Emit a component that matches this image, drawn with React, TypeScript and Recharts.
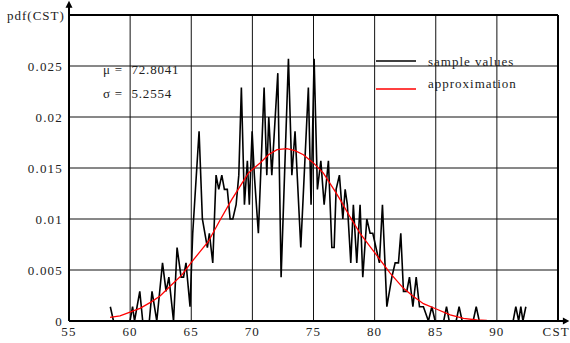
import React from 'react';
import {
  LineChart,
  Line,
  XAxis,
  YAxis,
  CartesianGrid,
  ReferenceLine,
  ReferenceDot,
} from 'recharts';

// ---- data ----
const xTicks = [55, 60, 65, 70, 75, 80, 85, 90, 95];
const xTickLabels = ['55', '60', '65', '70', '75', '80', '85', '90', 'CST'];
const yTicks = [0, 0.005, 0.01, 0.015, 0.02, 0.025, 0.03];
const yTickLabels = ['0', '0.005', '0.01', '0.015', '0.02', '0.025', ''];

const sampleX = [
  58.38, 58.64, 59.99, 60.2, 60.36, 60.79, 61.03, 61.57, 61.79, 62.18, 62.65, 62.94, 63.17,
  63.55, 63.84, 64.17, 64.37, 64.57, 64.9, 65.12, 65.64, 65.91, 66.32, 66.48, 66.76, 67.03,
  67.25, 67.5, 67.71, 67.95, 68.18, 68.4, 68.67, 68.89, 69.1, 69.35, 69.59, 69.75, 69.98,
  70.16, 70.49, 70.96, 71.18, 71.34, 71.59, 72.08, 72.35, 72.95, 73.23, 73.49, 73.96, 74.58,
  74.8, 75.05, 75.32, 75.6, 75.87, 76.22, 76.5, 76.69, 76.85, 77.12, 77.4, 77.59, 77.77,
  78.05, 78.26, 78.54, 78.81, 79.03, 79.36, 79.63, 79.85, 80.39, 80.64, 81.0, 81.41, 81.68,
  81.95, 82.14, 82.36, 82.63, 82.85, 83.13, 83.4, 83.67, 83.99, 84.4, 84.68, 84.95, 85.65,
  85.88, 86.1, 86.67, 86.91, 87.16, 88.06, 88.31, 88.56, 91.33, 91.55, 91.78, 91.96, 92.13,
  92.37,
];
const sampleY = [
  0.0014, 0, 0, 0.0014, 0, 0.0029, 0, 0, 0.0029, 0, 0.0057, 0.0029, 0.0043,
  0, 0.0072, 0.0043, 0.0043, 0.0057, 0.0014, 0.0086, 0.0186, 0.01, 0.0072, 0.0086, 0.0057, 0.0143,
  0.0129, 0.0143, 0.0129, 0.0129, 0.01, 0.01, 0.0114, 0.0143, 0.0229, 0.0114, 0.0157, 0.0114, 0.0186,
  0.0143, 0.0086, 0.0229, 0.0143, 0.02, 0.0143, 0.0243, 0.0043, 0.0257, 0.0143, 0.0186, 0.0072, 0.0229,
  0.0114, 0.0257, 0.0129, 0.0157, 0.0114, 0.0157, 0.0072, 0.0072, 0.0129, 0.0143, 0.01, 0.0129, 0.0114,
  0.0057, 0.0114, 0.0057, 0.0114, 0.0043, 0.01, 0.0086, 0.0086, 0.0057, 0.0114, 0.0014, 0.0043, 0.0057,
  0.0057, 0.0086, 0.0029, 0.0029, 0.0043, 0.0014, 0.0043, 0.0014, 0.0014, 0, 0.0014, 0, 0,
  0.0014, 0, 0, 0.0014, 0, 0, 0.0014, 0, 0, 0.0014, 0, 0.0014, 0,
  0.0014,
];

const approxX = [
  58.36, 59.17, 59.72, 60.26, 60.81, 61.77, 62.45, 63.27, 64.22, 65.04, 65.72, 66.4, 67.36,
  68.31, 68.99, 69.67, 70.63, 71.31, 72.02, 72.82, 73.49, 74.17, 74.99, 75.81, 76.77, 77.18,
  77.99, 78.81, 79.63, 80.45, 81.27, 82.36, 83.18, 83.99, 85.09, 86.18, 87.27, 88.36, 89.18,
  92.45,
];
const approxY = [
  0.00036, 0.0005, 0.00075, 0.001, 0.00124, 0.0019, 0.00245, 0.0034, 0.0045, 0.0058, 0.0068, 0.0078, 0.0099,
  0.0119, 0.0132, 0.0145, 0.0155, 0.0163, 0.0168, 0.0169, 0.0167, 0.0163, 0.0155, 0.0145, 0.0127, 0.0119,
  0.0102, 0.0086, 0.0073, 0.006, 0.0047, 0.0032, 0.0024, 0.0017, 0.00115, 0.0006, 0.00026, 0.0001, 0.00005,
  0,
];

const muText = '72.8041';
const sigmaText = '5.2554';
const seriesNames = ['sample values', 'approximation'];

const sampleData = sampleX.map((x, i) => ({ x, y: sampleY[i] }));
const approxData = approxX.map((x, i) => ({ x, y: approxY[i] }));

const FONT = 'Liberation Serif';
const TXT = '#222';

const RightArrow = (p: any) => (
  <polygon
    points={`${p.cx},${p.cy} ${p.cx - 6.5},${p.cy - 3.5} ${p.cx - 6.5},${p.cy + 3.5}`}
    fill="#000"
  />
);
const UpArrow = (p: any) => (
  <polygon
    points={`${p.cx},${p.cy} ${p.cx - 3.5},${p.cy + 7} ${p.cx + 3.5},${p.cy + 7}`}
    fill="#000"
  />
);

export default function App() {
  return (
    <div style={{ position: 'absolute', left: 0, top: 0, width: 570, height: 343, background: '#fff' }}>
      <LineChart width={570} height={343} margin={{ top: 15, right: 12, left: 0, bottom: 0 }}>
        <CartesianGrid stroke="#111" strokeWidth={1} />
        <XAxis
          type="number"
          dataKey="x"
          domain={[55, 95]}
          ticks={xTicks}
          tickFormatter={(v: number) => xTickLabels[xTicks.indexOf(v)] ?? ''}
          height={22}
          tickSize={0}
          tickMargin={6}
          axisLine={{ stroke: '#000', strokeWidth: 2 }}
          tick={{ fill: TXT, fontSize: 13, fontFamily: FONT, letterSpacing: 1.2 }}
          allowDataOverflow
        />
        <YAxis
          type="number"
          domain={[0, 0.03]}
          ticks={yTicks}
          tickFormatter={(v: number) => yTickLabels[yTicks.indexOf(v)] ?? ''}
          width={69}
          tickSize={0}
          tickMargin={6}
          axisLine={{ stroke: '#000', strokeWidth: 2 }}
          tick={{ fill: TXT, fontSize: 13, fontFamily: FONT, letterSpacing: 1.2 }}
          allowDataOverflow
        />
        <ReferenceLine y={0.03} stroke="#000" strokeWidth={2} />
        <ReferenceLine x={95} stroke="#000" strokeWidth={2} />
        <ReferenceLine
          segment={[{ x: 95, y: 0 }, { x: 95.5, y: 0 }]}
          stroke="#000"
          strokeWidth={2}
          ifOverflow="visible"
        />
        <ReferenceLine
          segment={[{ x: 55, y: 0.03 }, { x: 55, y: 0.0308 }]}
          stroke="#000"
          strokeWidth={2}
          ifOverflow="visible"
        />
        <ReferenceDot x={95.93} y={0} ifOverflow="visible" shape={RightArrow} />
        <ReferenceDot x={55} y={0.0314} ifOverflow="visible" shape={UpArrow} />
        <Line
          data={sampleData}
          dataKey="y"
          type="linear"
          stroke="#000"
          strokeWidth={1.6}
          dot={false}
          isAnimationActive={false}
          name={seriesNames[0]}
        />
        <Line
          data={approxData}
          dataKey="y"
          type="linear"
          stroke="#ff0000"
          strokeWidth={1.3}
          dot={false}
          isAnimationActive={false}
          name={seriesNames[1]}
        />
      </LineChart>
      <svg
        width={570}
        height={343}
        style={{ position: 'absolute', left: 0, top: 0, pointerEvents: 'none' }}
        fontFamily={FONT}
        fontSize={13}
        fill={TXT}
      >
        <text x={7} y={19.5} letterSpacing={1}>pdf(CST)</text>
        <text x={103} y={73.5} letterSpacing={0.8}>
          μ =<tspan x={131.5}>{muText}</tspan>
        </text>
        <text x={103} y={97.5} letterSpacing={0.8}>
          σ =<tspan x={131.5}>{sigmaText}</tspan>
        </text>
        <line x1={376} y1={61} x2={416} y2={61} stroke="#000" strokeWidth={1.5} />
        <line x1={376} y1={89} x2={416} y2={89} stroke="#ff0000" strokeWidth={1.5} />
        <text x={428} y={65.5} letterSpacing={1}>{seriesNames[0]}</text>
        <text x={428} y={88} letterSpacing={1}>{seriesNames[1]}</text>
      </svg>
    </div>
  );
}
